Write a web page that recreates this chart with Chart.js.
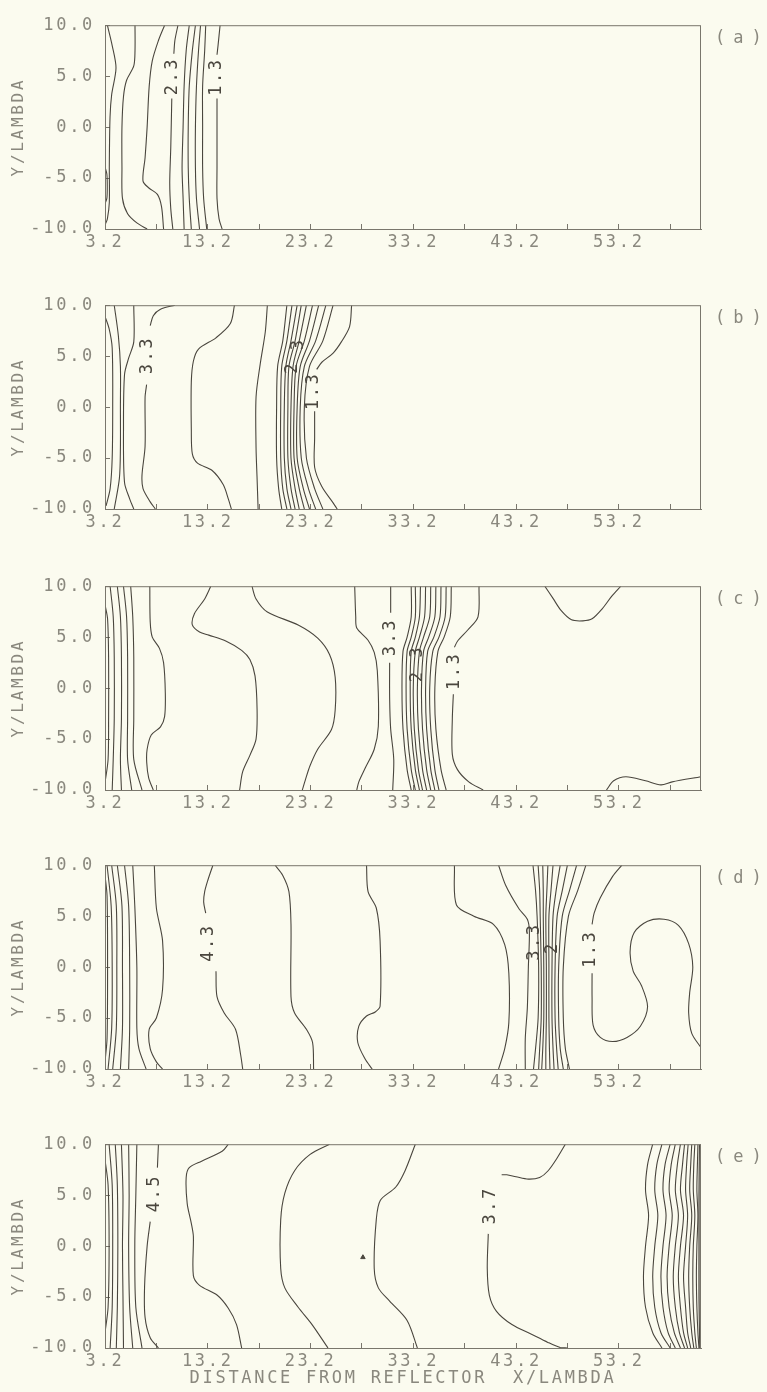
<!DOCTYPE html>
<html><head><meta charset="utf-8">
<script src="https://cdn.jsdelivr.net/npm/chart.js@4.4.0/dist/chart.umd.min.js"></script>
<style>
html,body{margin:0;padding:0;background:#fbfbef;}
#wrap{position:relative;width:767px;height:1392px;overflow:hidden;background:#fbfbef;}
canvas{position:absolute;left:0;}
</style></head>
<body><div id="wrap">
<canvas id="cA" width="767" height="280" style="top:0px"></canvas>
<canvas id="cB" width="767" height="280" style="top:280px"></canvas>
<canvas id="cC" width="767" height="279" style="top:561px"></canvas>
<canvas id="cD" width="767" height="279" style="top:840px"></canvas>
<canvas id="cE" width="767" height="273" style="top:1119px"></canvas>
</div>
<script>
// ---------- data ----------
const xTickValues = [3.2, 8.2, 13.2, 18.2, 23.2, 28.2, 33.2, 38.2, 43.2, 48.2, 53.2, 58.2];
const xTickLabels = [3.2, 13.2, 23.2, 33.2, 43.2, 53.2];
const xRange = [3.2, 61.2];
const yRange = [-10, 10];
const panelTags = ['(a)', '(b)', '(c)', '(d)', '(e)'];
const xTitle = 'DISTANCE FROM REFLECTOR  X/LAMBDA';
const yTitle = 'Y/LAMBDA';

const contoursA = [
  [[3.43,10],[3.9,8.0],[4.27,5.8],[3.85,3.2],[3.69,1.0],[3.62,-3.8],[3.62,-7.4],[3.43,-9.0],[3.2,-9.6]],
  [[3.2,-3.9],[3.38,-4.6],[3.42,-5.8],[3.38,-7.0],[3.2,-7.5]],
  [[6.12,10],[6.12,7.5],[6.0,6.0],[5.3,4.6],[5.0,3],[4.85,0],[4.85,-4],[4.9,-7],[5.4,-8.5],[6.3,-9.4],[7.3,-10]],
  [[9.0,10],[8.4,8.5],[7.8,6.5],[7.5,4],[7.3,0],[7.1,-3],[6.9,-5.3],[7.5,-6.0],[8.3,-6.6],[8.7,-7.8],[8.9,-10]],
  [[10.3,10],[10.0,8.5],[9.9,7.2]],
  [[9.7,2.8],[9.6,-2],[9.5,-5.5],[9.6,-8],[9.8,-10]],
  [[11.4,10],[11.1,7.5],[10.9,4],[10.8,0],[10.7,-4],[10.8,-7],[10.9,-10]],
  [[12.0,10],[11.7,7.5],[11.4,4],[11.3,0],[11.3,-4],[11.4,-7],[11.6,-10]],
  [[12.5,10],[12.3,7.5],[12.1,4],[12.0,0],[12.0,-4],[12.1,-7],[12.4,-10]],
  [[13.0,10],[12.9,7.5],[12.7,4],[12.7,0],[12.7,-4],[12.8,-7],[13.1,-10]],
  [[14.4,10],[14.2,8],[14.1,7.1]],
  [[14.1,2.8],[14.1,0],[14.1,-4],[14.1,-7],[14.3,-9],[14.6,-10]]
];
const labelsA = [{x:9.8,y:5.0,t:'2.3'},{x:14.1,y:4.95,t:'1.3'}];

const contoursB = [
  [[3.2,8.9],[3.6,7.7],[3.9,5.8],[3.95,0],[3.9,-5],[3.7,-8],[3.3,-9.7]],
  [[4.1,10],[4.5,7],[4.7,4],[4.7,0],[4.7,-4],[4.6,-7],[4.1,-10]],
  [[6.0,10],[6.0,6.4],[5.5,4.8],[5.1,3.2],[5.0,-2.2],[5.1,-7.4],[5.6,-9.0],[6.0,-10]],
  [[10.0,10],[8.6,9.6],[7.9,8.97],[7.6,8.0]],
  [[7.25,2.2],[7.1,0.96],[7.1,-3.85],[6.8,-6.7],[6.9,-8.0],[7.6,-9.3],[8.1,-10]],
  [[15.8,10],[15.4,8.2],[14.0,6.8],[12.3,5.7],[11.8,4.5],[11.6,2.5],[11.6,-2.2],[11.7,-4.6],[12.2,-5.5],[13.6,-6.2],[14.7,-7.6],[15.2,-9.0],[15.5,-10]],
  [[19.0,10],[18.8,7.4],[18.3,4.2],[17.9,1.0],[17.9,-4],[18.0,-7],[18.1,-10]],
  [[20.9,10],[20.5,6.5],[20.0,4],[19.9,0],[19.9,-5],[20.1,-8],[20.4,-10]],
  [[21.4,10],[20.9,6.5],[20.4,4],[20.3,0],[20.3,-5],[20.5,-8],[20.9,-10]],
  [[21.9,10],[21.3,6.5],[20.8,4],[20.65,0],[20.65,-5],[20.9,-8],[21.3,-10]],
  [[22.3,10],[21.7,6.5],[21.1,4],[21.0,0],[21.0,-5],[21.3,-8],[21.7,-10]],
  [[22.8,10],[22.1,6.5],[21.5,4],[21.3,0],[21.3,-5],[21.7,-8],[22.1,-10]],
  [[23.4,10],[22.6,6.5],[21.8,4],[21.6,0],[21.6,-5],[22.1,-8],[22.6,-10]],
  [[24.0,10],[23.1,6.5],[22.2,4],[21.9,0],[21.9,-5],[22.5,-8],[23.1,-10]],
  [[24.7,10],[23.7,6.5],[22.6,4],[22.2,0],[22.3,-5],[23.0,-8],[23.7,-10]],
  [[25.4,10],[24.4,6.5],[23.1,4],[22.6,0],[22.8,-5],[23.6,-8],[24.4,-10]],
  [[27.2,10],[27.0,7.9],[26.2,6.4],[25.4,5.3],[24.3,4.4],[23.8,3.7]],
  [[23.6,-0.4],[23.6,-3],[23.6,-5.9],[24.3,-7.8],[25.4,-9.4],[25.8,-10]]
];
const labelsB = [{x:7.35,y:5.1,t:'3.3'},{x:22.0,y:6.2,t:'3'},{x:21.5,y:3.9,t:'2'},{x:23.5,y:1.6,t:'1.3'}];

const contoursC = [
  [[3.2,8.2],[3.45,6.8],[3.55,3],[3.55,-3],[3.5,-7],[3.2,-9.3]],
  [[3.7,10],[4.0,7],[4.1,3],[4.1,-3],[4.0,-7],[3.9,-10]],
  [[4.4,10],[4.7,7],[4.8,3],[4.8,-3],[4.7,-7],[4.8,-10]],
  [[5.0,10],[5.3,7],[5.4,3],[5.4,-3],[5.4,-7],[5.8,-10]],
  [[5.7,10],[5.9,7],[6.0,3],[6.0,-3],[6.0,-7],[6.8,-10]],
  [[7.56,10],[7.6,6.5],[7.8,5.0],[8.5,3.9],[8.9,2.5],[9.07,-0.5],[9.0,-2.8],[8.6,-3.8],[7.7,-4.6],[7.3,-6],[7.26,-7.3],[7.45,-8.8],[7.9,-10]],
  [[13.5,10],[12.9,8.75],[11.9,7.3],[11.7,6.2],[12.4,5.5],[13.3,5.2],[15.0,4.6],[16.5,3.7],[17.3,2.8],[17.8,1.2],[18.0,-2.1],[17.9,-5.0],[17.3,-6.6],[16.6,-8.2],[16.3,-10]],
  [[17.5,10],[17.9,8.75],[19.0,7.47],[22.0,6.19],[23.9,4.9],[25.05,3.3],[25.6,1.06],[25.6,-2.15],[25.24,-4.07],[23.9,-6.0],[23.16,-7.6],[22.7,-9],[22.4,-10]],
  [[27.5,10],[27.6,7],[27.7,5.9],[28.8,4.7],[29.4,3.5],[29.7,1.7],[29.8,-3.75],[29.4,-6.0],[28.5,-7.9],[27.9,-9.2],[27.7,-10]],
  [[31.0,10],[31.0,7.4]],
  [[30.9,2.5],[30.9,-1],[31.0,-4],[31.3,-7],[31.2,-10]],
  [[33.0,10],[33.0,7],[32.6,5],[32.2,3.6],[32.1,0],[32.2,-4],[32.6,-8],[33.0,-10]],
  [[33.4,10],[33.4,7],[33.0,5],[32.6,3.6],[32.5,0],[32.6,-4],[33.0,-8],[33.4,-10]],
  [[33.9,10],[33.8,7],[33.4,5],[33.0,3.6],[32.9,0],[33.0,-4],[33.4,-8],[33.8,-10]],
  [[34.4,10],[34.3,7],[33.8,5],[33.4,3.6],[33.2,0],[33.3,-4],[33.7,-8],[34.1,-10]],
  [[34.9,10],[34.8,7],[34.2,5],[33.8,3.6],[33.6,0],[33.7,-4],[34.1,-8],[34.5,-10]],
  [[35.4,10],[35.3,7],[34.7,5],[34.2,3.6],[34.0,0],[34.1,-4],[34.5,-8],[34.9,-10]],
  [[35.9,10],[35.8,7],[35.2,5],[34.6,3.6],[34.4,0],[34.5,-4],[34.9,-8],[35.3,-10]],
  [[36.4,10],[36.3,7],[35.7,5],[35.1,3.6],[34.8,0],[34.9,-4],[35.3,-8],[35.7,-10]],
  [[36.9,10],[36.8,7],[36.2,5],[35.6,3.6],[35.3,0],[35.4,-4],[35.9,-8],[36.4,-10]],
  [[39.6,10],[39.5,7.0],[38.5,5.7],[37.5,4.6],[37.2,4.0]],
  [[37.1,-0.6],[37.0,-3],[37.0,-6.5],[37.5,-8.0],[38.6,-9.2],[40.0,-10]],
  [[46.0,10],[46.8,8.8],[47.6,7.6],[48.6,6.7],[49.7,6.6],[50.6,6.8],[51.6,7.8],[52.5,9.0],[53.4,10]],
  [[52.0,-10],[52.7,-9.1],[53.9,-8.7],[55.8,-9.1],[57.3,-9.5],[58.4,-9.2],[61.2,-8.7]]
];
const labelsC = [{x:31.0,y:5.0,t:'3.3'},{x:33.6,y:3.6,t:'3'},{x:33.6,y:1.2,t:'2'},{x:37.2,y:1.7,t:'1.3'}];

const contoursD = [
  [[3.2,9.0],[3.4,7],[3.45,0],[3.4,-7],[3.2,-9.3]],
  [[3.4,10],[3.8,6],[3.9,0],[3.85,-6],[3.5,-10]],
  [[3.85,10],[4.3,6],[4.35,0],[4.3,-6],[3.95,-10]],
  [[4.4,10],[4.85,6],[4.9,0],[4.9,-6],[4.7,-10]],
  [[5.1,10],[5.5,6],[5.6,0],[5.6,-6],[5.5,-10]],
  [[5.9,10],[6.1,6],[6.3,0],[6.3,-6],[6.5,-8],[7.2,-10]],
  [[8.0,10],[8.2,5.8],[8.8,2.6],[8.8,-2.2],[8.2,-5],[7.5,-6.1],[7.6,-8.0],[8.2,-9.3],[8.8,-10]],
  [[13.7,10],[13.2,8.5],[12.9,7.4],[12.8,6.4],[13.0,5.3]],
  [[14.0,-0.4],[14.1,-2.9],[14.8,-4.5],[15.9,-6.1],[16.4,-8.6],[16.6,-10]],
  [[19.75,10],[20.5,9.0],[21.1,7.4],[21.3,4.2],[21.3,-2.9],[21.65,-4.5],[22.8,-6.1],[23.4,-7.4],[23.5,-10]],
  [[28.65,10],[28.8,7.4],[29.6,5.8],[29.97,2.6],[29.97,-3.85],[29.5,-4.4],[28.65,-4.8],[27.9,-5.8],[27.8,-7.4],[28.5,-9.0],[29.2,-10]],
  [[37.2,10],[37.4,6.1],[39.1,5.0],[41.0,4.2],[42.1,2.2],[42.5,-0.6],[42.5,-5.45],[42.1,-8.0],[41.5,-10]],
  [[41.5,10],[42.2,8.0],[43.5,5.7],[44.3,4.7],[44.5,3.5],[44.4,0],[44.3,-4],[44.1,-7],[44.1,-10]],
  [[44.85,10],[45.1,7.5],[45.25,5],[45.4,0],[45.35,-5],[45.1,-8],[44.9,-10]],
  [[45.35,10],[45.5,7.5],[45.55,5],[45.65,0],[45.65,-5],[45.5,-8],[45.4,-10]],
  [[45.8,10],[45.85,7.5],[45.85,5],[45.9,0],[45.9,-5],[45.8,-8],[45.7,-10]],
  [[46.3,10],[46.2,7.5],[46.1,5],[46.15,0],[46.15,-5],[46.1,-8],[46.1,-10]],
  [[46.8,10],[46.6,7.5],[46.4,5],[46.4,0],[46.4,-5],[46.45,-8],[46.5,-10]],
  [[47.5,10],[47.1,7.5],[46.8,5],[46.7,0],[46.7,-5],[46.8,-8],[46.9,-10]],
  [[48.2,10],[47.7,7.5],[47.2,5],[47.0,0],[47.0,-5],[47.15,-8],[47.3,-10]],
  [[49.1,10],[48.4,7.5],[47.7,5],[47.35,0],[47.35,-5],[47.5,-8],[47.8,-10]],
  [[50.0,10],[49.2,7.5],[48.3,5],[47.8,0],[47.8,-5],[48.0,-8],[48.4,-10]],
  [[53.5,10],[52.6,8.9],[51.4,6.8],[50.8,5.3],[50.6,4.2]],
  [[50.6,-0.6],[50.6,-3],[50.7,-5.7],[51.4,-6.9],[52.6,-7.3],[54.0,-6.9],[55.3,-5.8],[56.0,-3.9],[55.4,-1.8],[54.6,-0.4],[54.3,1.5],[54.7,3.4],[56.0,4.5],[57.6,4.7],[59.0,4.1],[60.0,2.3],[60.4,0],[60.1,-2.5],[60.0,-4.5],[60.3,-6.5],[61.2,-7.9]]
];
const labelsD = [{x:13.3,y:2.4,t:'4.3'},{x:45.0,y:2.5,t:'3.3'},{x:46.8,y:1.9,t:'2'},{x:50.5,y:1.8,t:'1.3'}];

const contoursE = [
  [[3.2,8.5],[3.5,6],[3.6,0],[3.5,-6],[3.2,-8.5]],
  [[3.6,10],[3.9,6],[3.95,0],[3.9,-6],[3.7,-10]],
  [[4.2,10],[4.4,6],[4.45,0],[4.4,-6],[4.3,-10]],
  [[4.8,10],[4.95,5],[4.9,0],[4.95,-5],[5.0,-10]],
  [[5.5,10],[5.55,5],[5.5,0],[5.6,-6],[5.9,-10]],
  [[6.3,10],[6.2,5],[6.1,0],[6.2,-6],[6.8,-10]],
  [[8.4,10],[8.3,7.7]],
  [[7.6,2.4],[7.3,0],[7.05,-4],[7.1,-7],[7.6,-9],[8.4,-10]],
  [[15.2,10],[14.6,9.3],[12.6,8.33],[11.4,7.69],[11.1,6.73],[11.2,4.17],[11.6,2.24],[11.8,0.96],[11.8,-2.9],[12.4,-3.85],[14.1,-4.8],[15.2,-6.1],[16.0,-7.7],[16.5,-10]],
  [[25.05,10],[23.16,9.0],[21.65,7.4],[20.7,5.2],[20.3,2.6],[20.3,-2.2],[20.7,-4.1],[22.0,-6.0],[23.35,-7.7],[24.9,-10]],
  [[33.4,10],[32.4,7.4],[31.5,5.8],[30.0,4.5],[29.6,2.6],[29.4,-2.2],[29.8,-4.1],[30.9,-5.4],[32.6,-7.3],[33.6,-10]],
  [[48.0,10],[47.2,8.65],[46.3,7.37],[45.5,6.73],[44.4,6.57],[43.2,6.8],[42.3,7.0],[41.8,7.0]],
  [[40.5,1.2],[40.4,-2.2],[40.6,-4.8],[41.3,-6.4],[42.8,-7.7],[44.7,-8.65],[46.3,-9.45],[47.5,-9.95],[48.2,-10]],
  [[56.5,10],[56.0,8],[55.8,5.5],[56.1,3],[55.8,0],[55.6,-3],[55.8,-6],[56.5,-8.5],[57.4,-10]],
  [[57.4,10],[56.9,8],[56.7,5.5],[57.0,3],[56.7,0],[56.5,-3],[56.7,-6],[57.3,-8.5],[58.2,-10]],
  [[58.2,10],[57.7,8],[57.5,5.5],[57.8,3],[57.5,0],[57.3,-3],[57.5,-6],[58.0,-8.5],[58.7,-10]],
  [[58.7,10],[58.3,8],[58.1,5.5],[58.4,3],[58.1,0],[57.9,-3],[58.1,-6],[58.6,-8.5],[59.2,-10]],
  [[59.2,10],[58.9,8],[58.7,5.5],[59.0,3],[58.7,0],[58.5,-3],[58.7,-6],[59.1,-8.5],[59.6,-10]],
  [[59.6,10],[59.4,8],[59.2,5.5],[59.5,3],[59.2,0],[59.0,-3],[59.2,-6],[59.5,-8.5],[59.9,-10]],
  [[59.95,10],[59.8,8],[59.7,5.5],[59.9,3],[59.7,0],[59.5,-3],[59.7,-6],[59.9,-8.5],[60.2,-10]],
  [[60.3,10],[60.2,8],[60.1,5.5],[60.3,3],[60.1,0],[60.0,-3],[60.1,-6],[60.3,-8.5],[60.5,-10]],
  [[60.6,10],[60.5,8],[60.45,5.5],[60.6,3],[60.45,0],[60.4,-3],[60.45,-6],[60.6,-8.5],[60.75,-10]],
  [[60.9,10],[60.85,8],[60.8,5.5],[60.9,3],[60.8,0],[60.75,-3],[60.8,-6],[60.9,-8.5],[61.0,-10]],
  [[61.05,10],[61.0,5],[61.0,0],[61.0,-5],[61.08,-10]],
  [[61.15,10],[61.12,5],[61.12,0],[61.12,-5],[61.15,-10]]
];
const labelsE = [{x:8.0,y:5.2,t:'4.5'},{x:40.7,y:4.0,t:'3.7'}];
const marksE = [[28.3,-1.1]];

// ---------- style ----------
const LINE = '#4a463e';
const FRAME = '#79766c';
const TEXT = '#8a887e';
const FONT = '"DejaVu Sans Mono", "Liberation Mono", monospace';

const decorPlugin = {
  id: 'decor',
  beforeDraw(chart) { chart.ctx.letterSpacing = '2.7px'; },
  afterDatasetsDraw(chart, args, opts) {
    const {ctx, chartArea: a, scales} = chart;
    ctx.save();
    ctx.strokeStyle = FRAME; ctx.lineWidth = 1;
    ctx.strokeRect(a.left + 0.5, a.top + 0.5, a.right - a.left - 1, a.bottom - a.top);
    ctx.fillStyle = LINE;
    ctx.font = '17px ' + FONT;
    ctx.textAlign = 'center'; ctx.textBaseline = 'middle';
    ctx.letterSpacing = '2.5px';
    for (const L of opts.labels) {
      const px = scales.x.getPixelForValue(L.x), py = scales.y.getPixelForValue(L.y);
      ctx.save(); ctx.translate(px, py); ctx.rotate(-Math.PI / 2);
      ctx.fillText(L.t, 0, 0); ctx.restore();
    }
    ctx.fillStyle = TEXT; ctx.textAlign = 'left';
    ctx.font = '17px ' + FONT;
    ctx.letterSpacing = '8px';
    ctx.fillText(opts.tag, a.right + 14, a.top + 13);
    ctx.restore();
  }
};

function build(id, idx, lines, labels, marks, canvasH, showXTitle) {
  const datasets = lines.map(l => ({
    data: l.map(p => ({x: p[0], y: p[1]})),
    showLine: true, borderColor: LINE, borderWidth: 1.1,
    pointRadius: 0, tension: 0.3, fill: false
  }));
  if (marks) {
    datasets.push({
      data: marks.map(p => ({x: p[0], y: p[1]})),
      showLine: false, pointStyle: 'triangle', pointRadius: 2.6,
      backgroundColor: LINE, borderColor: LINE
    });
  }
  const xAxisH = canvasH - 229;
  new Chart(document.getElementById(id), {
    type: 'scatter',
    data: { datasets },
    options: {
      responsive: false, animation: false, devicePixelRatio: 1,
      layout: { padding: { left: 0, right: 66, top: 21, bottom: 0 } },
      plugins: { legend: {display: false}, tooltip: {enabled: false},
        decor: { labels, tag: panelTags[idx] } },
      scales: {
        x: {
          type: 'linear', min: xRange[0], max: xRange[1],
          afterBuildTicks: s => { s.ticks = xTickValues.map(v => ({value: v})); },
          afterFit: s => { s.height = xAxisH; },
          grid: { drawOnChartArea: false, drawTicks: true, tickLength: -5, color: FRAME, lineWidth: 1 },
          border: { display: true, color: FRAME, width: 1 },
          ticks: {
            autoSkip: false, maxRotation: 0, minRotation: 0, padding: 8,
            color: TEXT, font: { family: FONT, size: 17 },
            callback: v => xTickLabels.some(l => Math.abs(l - v) < 1e-6) ? v.toFixed(1) : ''
          },
          title: { display: showXTitle, text: xTitle, color: TEXT,
            font: { family: FONT, size: 17 }, padding: { top: 0, bottom: 3 } }
        },
        y: {
          type: 'linear', min: yRange[0], max: yRange[1],
          afterFit: s => { s.width = 105; },
          grid: { drawOnChartArea: false, drawTicks: true, tickLength: -5, color: FRAME, lineWidth: 1 },
          border: { display: true, color: FRAME, width: 1 },
          ticks: { stepSize: 5, padding: 15, color: TEXT, font: { family: FONT, size: 17 },
            callback: v => Number(v).toFixed(1) },
          title: { display: true, text: yTitle, color: TEXT,
            font: { family: FONT, size: 16 }, padding: { top: 9, bottom: 0 } }
        }
      }
    },
    plugins: [decorPlugin]
  });
}

build('cA', 0, contoursA, labelsA, null, 280, false);
build('cB', 1, contoursB, labelsB, null, 280, false);
build('cC', 2, contoursC, labelsC, null, 279, false);
build('cD', 3, contoursD, labelsD, null, 279, false);
build('cE', 4, contoursE, labelsE, marksE, 273, true);
</script>
</body></html>
